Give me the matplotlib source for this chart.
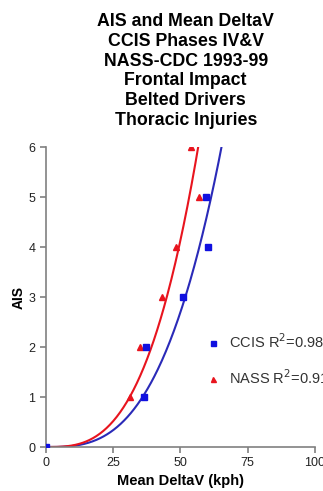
import numpy as np
import matplotlib
matplotlib.use("Agg")
import matplotlib.pyplot as plt

plt.rcParams['font.family'] = ['Liberation Sans', 'DejaVu Sans']

title_lines = ["AIS and Mean DeltaV", "CCIS Phases IV&V", "NASS-CDC 1993-99",
               "Frontal Impact", "Belted Drivers", "Thoracic Injuries"]

ccis_dv = [0, 36.4, 37.2, 51.0, 60.3, 59.5]
ccis_ais = [0, 1, 2, 3, 4, 5]
ccis_r2 = 0.98

nass_dv = [0, 31.3, 35.0, 43.2, 48.3, 57.0, 54.0]
nass_ais = [0, 1, 2, 3, 4, 5, 6]
nass_r2 = 0.91

x_ticks = [0, 25, 50, 75, 100]
y_ticks = [0, 1, 2, 3, 4, 5, 6]

blue = '#1010e0'
blue_line = '#2a2ab8'
red = '#e8141e'

def cubic_fit(x, y):
    x = np.asarray(x, float); y = np.asarray(y, float)
    return np.sum(y * x**3) / np.sum(x**6)

fig = plt.figure(figsize=(3.23, 4.91), dpi=100)
ax = fig.add_axes([0.142, 0.0896, 0.833, 0.611])

xs = np.linspace(0, 100, 400)
c_ccis = cubic_fit(ccis_dv, ccis_ais)
c_nass = cubic_fit(nass_dv, nass_ais)
ax.plot(xs, c_ccis * xs**3, color=blue_line, lw=1.5, zorder=2)
ax.plot(xs, c_nass * xs**3, color=red, lw=1.5, zorder=2)
ax.plot(nass_dv, nass_ais, '^', color=red, ms=4.5, ls='none', zorder=3,
        label=f"NASS R$^2$={nass_r2:.2f}")
ax.plot(ccis_dv, ccis_ais, 's', color=blue, ms=4.5, ls='none', zorder=4,
        label=f"CCIS R$^2$={ccis_r2:.2f}")

ax.set_xlim(0, 100)
ax.set_ylim(0, 6)
ax.set_xticks(x_ticks)
ax.set_yticks(y_ticks)
for s in ['top', 'right']:
    ax.spines[s].set_visible(False)
for s in ['left', 'bottom']:
    ax.spines[s].set_color('#808080')
    ax.spines[s].set_linewidth(1.2)
ax.tick_params(direction='out', length=4, width=1.2, color='#808080',
               labelsize=9, labelcolor='#222222')
ax.set_xlabel("Mean DeltaV (kph)", fontsize=10.5, fontweight='bold', labelpad=3)
ax.set_ylabel("AIS", fontsize=10, fontweight='bold', labelpad=2)

h, l = ax.get_legend_handles_labels()
leg = ax.legend([h[1], h[0]], [l[1], l[0]], loc='upper left',
                bbox_to_anchor=(0.545, 0.425), frameon=False, fontsize=10.5,
                handlelength=1.0, handletextpad=0.6, labelspacing=1.15,
                markerscale=0.8)
for t in leg.get_texts():
    t.set_color('#333333')

fig.text(0.575, 0.973, "\n".join(title_lines), ha='center', va='top',
         fontsize=12.8, fontweight='bold', linespacing=1.21)

fig.savefig("out.png", dpi=100)
